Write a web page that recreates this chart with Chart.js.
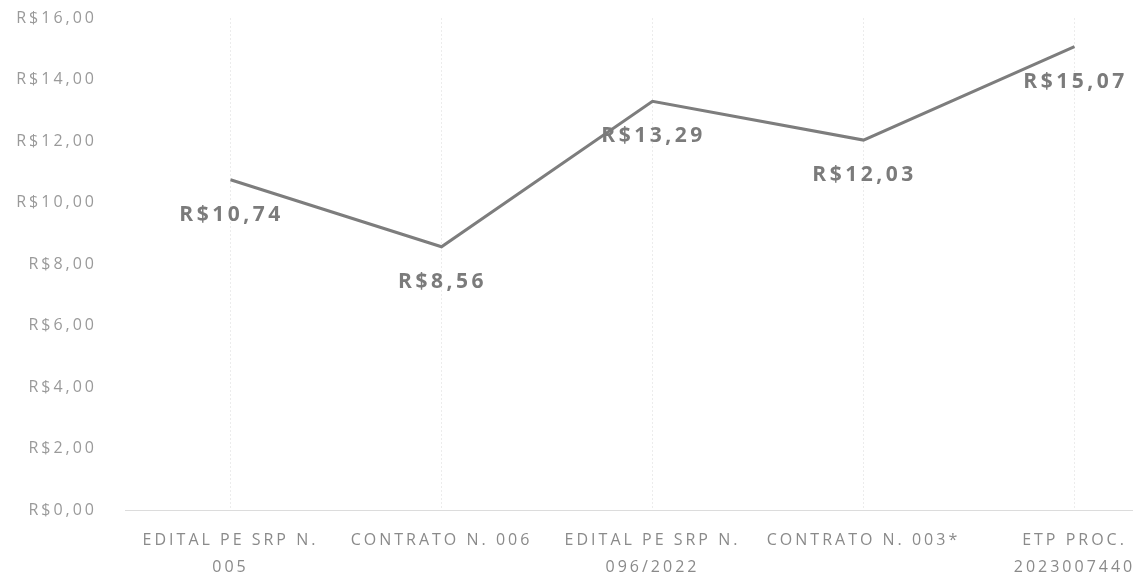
<!DOCTYPE html>
<html>
<head>
<meta charset="utf-8">
<script src="https://cdn.jsdelivr.net/npm/chart.js@4"></script>
<style>
  html, body { margin: 0; padding: 0; background: #fff; overflow: hidden; }
  #wrap { width: 1133px; height: 579px; overflow: hidden; }
</style>
</head>
<body>
<div id="wrap"><canvas id="chart" width="1180" height="579"></canvas></div>
<script>
// chart data
const categories = [
  ["EDITAL PE SRP N.", "005"],
  "CONTRATO N. 006",
  ["EDITAL PE SRP N.", "096/2022"],
  "CONTRATO N. 003*",
  ["ETP PROC.", "2023007440"]
];
const prices = [10.74, 8.56, 13.29, 12.03, 15.07];
const yMin = 0;
const yMax = 16;
const yStep = 2;

function formatBRL(value) {
  return "R$" + value.toFixed(2).replace(".", ",");
}

// the scanned original has wide, spaced-out lettering
const spacing = {
  id: "spacing",
  beforeLayout(chart) { chart.ctx.letterSpacing = "3px"; },
  beforeDraw(chart) { chart.ctx.letterSpacing = "3px"; }
};

// draws the value under each point
const pointLabels = {
  id: "pointLabels",
  afterDatasetsDraw(chart) {
    const ctx = chart.ctx;
    const meta = chart.getDatasetMeta(0);
    ctx.save();
    ctx.letterSpacing = "3.5px";
    ctx.font = "bold 21px 'Open Sans'";
    ctx.fillStyle = "#7b7b7b";
    ctx.textAlign = "center";
    ctx.textBaseline = "middle";
    meta.data.forEach((pt, i) => {
      ctx.fillText(formatBRL(prices[i]), pt.x + 1, pt.y + 35);
    });
    ctx.restore();
  }
};

const ctx = document.getElementById("chart").getContext("2d");
new Chart(ctx, {
  type: "line",
  data: {
    labels: categories,
    datasets: [{
      data: prices,
      borderColor: "#7d7d7d",
      borderWidth: 3,
      pointRadius: 0,
      tension: 0
    }]
  },
  options: {
    responsive: false,
    animation: false,
    layout: { padding: { top: 18, right: 0, bottom: 0, left: 0 } },
    plugins: {
      legend: { display: false },
      tooltip: { enabled: false }
    },
    scales: {
      x: {
        offset: true,
        grid: {
          offset: false,
          color: "#ececec",
          lineWidth: 1,
          drawTicks: false
        },
        border: { display: true, color: "#dcdcdc", width: 1, dash: [2, 2] },
        ticks: {
          color: "#8a8a8a",
          font: { family: "'Open Sans'", size: 16, lineHeight: 1.7 },
          padding: 17,
          maxRotation: 0,
          autoSkip: false
        },
        afterFit(axis) { axis.height = 69; }
      },
      y: {
        min: yMin,
        max: yMax,
        grid: { display: false, drawTicks: false },
        border: { display: false },
        ticks: {
          stepSize: yStep,
          color: "#9a9a9a",
          font: { family: "'Open Sans'", size: 16 },
          padding: 28,
          callback: (v) => formatBRL(v)
        },
        afterFit(axis) {
          axis.width = 125;
          // tick padding is horizontal here, keep it out of the top gap
          axis.paddingTop = 10;
        }
      }
    }
  },
  plugins: [spacing, pointLabels]
});
</script>
</body>
</html>
